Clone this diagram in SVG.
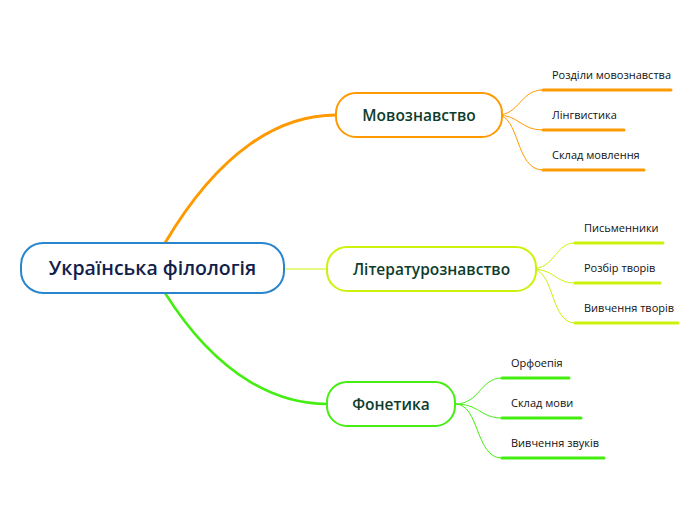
<svg xmlns="http://www.w3.org/2000/svg" width="696" height="520" viewBox="0 0 696 520">
<style>
.n{fill:#fff;stroke-width:2}
.t{font-family:"Open Sans","DejaVu Sans",sans-serif;font-size:15.5px;font-weight:600;fill:#0e3d2c;text-anchor:middle}
.l{font-family:"Open Sans","DejaVu Sans",sans-serif;font-size:11px;fill:#111}
.c{fill:none}
.o{stroke:#ff9900}.y{stroke:#ccf20a}.g{stroke:#44ee11}
</style>
<rect width="696" height="520" fill="#fff"/>
<g id="connectors">
<path class="c o" stroke-width="3" d="M165,243 C220,150 280,115 336,115"/>
<path class="c g" stroke-width="2.5" d="M165,293 C220,380 280,404 327,404"/>
<path class="c y" stroke-width="1" d="M284,269 H327"/>
<g stroke-width="1">
<path class="c o" d="M497,115 C520,115 520,90 543,90 M497,115 C520,115 520,130 543,130 M497,115 C520,115 515,170 543,170"/>
<path class="c y" d="M531,269 C555,269 555,243 575,243 M531,269 C555,269 555,283 575,283 M531,269 C555,269 550,323 575,323"/>
<path class="c g" d="M455,404 C480,404 480,378 502,378 M455,404 C480,404 480,418 502,418 M455,404 C480,404 475,458 502,458"/>
</g>
<g stroke-width="3" stroke-linecap="round">
<path class="o" d="M543,90H671M543,130H624M543,170H644"/>
<path class="y" d="M575,243H663M575,283H660M575,323H678"/>
<path class="g" d="M502,378H569M502,418H581M502,458H604"/>
</g>
</g>
<g id="root"><rect class="n" x="21" y="243" width="263" height="50" rx="22" stroke="#2a86cc"/><text class="t" x="152.5" y="275" style="font-size:19.5px;fill:#13204a">Українська філологія</text></g>
<g id="n1"><rect class="n o" x="336" y="93" width="166" height="44" rx="20"/><text class="t" x="419" y="121">Мовознавство</text></g>
<g id="n2"><rect class="n y" x="327" y="247" width="209" height="44" rx="20"/><text class="t" x="431.5" y="275">Літературознавство</text></g>
<g id="n3"><rect class="n g" x="327" y="382" width="128" height="44" rx="20"/><text class="t" x="391" y="410">Фонетика</text></g>
<g id="leaves">
<text class="l" x="552" y="79">Розділи мовознавства</text>
<text class="l" x="552" y="119">Лінгвистика</text>
<text class="l" x="552" y="159">Склад мовлення</text>
<text class="l" x="584" y="232">Письменники</text>
<text class="l" x="584" y="272">Розбір творів</text>
<text class="l" x="584" y="312">Вивчення творів</text>
<text class="l" x="511" y="367">Орфоепія</text>
<text class="l" x="511" y="407">Склад мови</text>
<text class="l" x="511" y="447">Вивчення звуків</text>
</g>
</svg>
